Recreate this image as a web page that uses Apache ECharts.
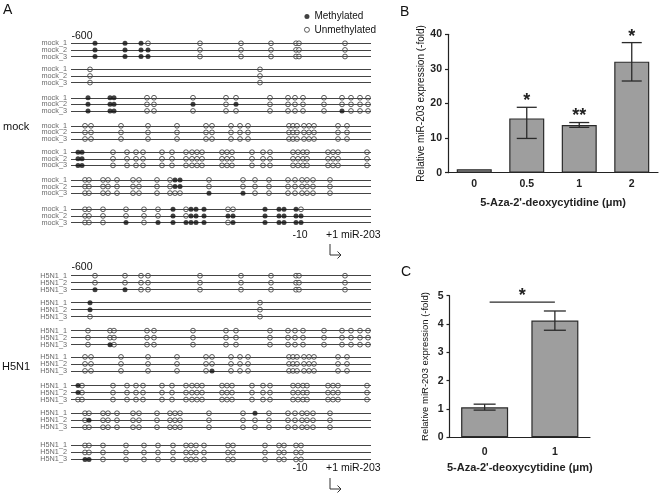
<!DOCTYPE html>
<html><head><meta charset="utf-8">
<script src="https://cdn.jsdelivr.net/npm/echarts/dist/echarts.min.js"></script>
<style>html,body{margin:0;padding:0;background:#fff}#c{width:660px;height:494px}</style>
</head><body><div id="c"></div>
<script>
// ---------- Panel A data: CpG site positions (relative units along the amplicon) ----------
const siteBlocks = [
  [24, 54, 70, 77, 129, 170, 200, 225, 228, 274],
  [19, 189],
  [17, 39, 43, 76, 83, 122, 155, 165, 199, 217, 224, 232, 253, 271, 280, 289, 297],
  [14, 20, 50, 77, 106, 135, 141, 160, 169, 177, 218, 222, 226, 233, 238, 243, 267, 276],
  [7, 11, 42, 56, 65, 72, 91, 101, 115, 121, 126, 131, 151, 156, 161, 181, 192, 199, 222, 227, 232, 236, 257, 262, 267, 296],
  [14, 18, 32, 37, 46, 62, 68, 86, 99, 104, 109, 138, 172, 184, 198, 217, 224, 231, 236, 242, 259],
  [14, 18, 32, 55, 73, 87, 102, 115, 120, 125, 133, 157, 162, 194, 208, 213, 225, 230]
];
const mockLabels = ['mock_1', 'mock_2', 'mock_3'];
const h5Labels = ['H5N1_1', 'H5N1_2', 'H5N1_3'];
// indices of methylated sites, per block, per clone
const mockMeth = [
  [[0, 1, 2], [0, 1, 2, 3], [0, 1, 2, 3]],
  [[], [], []],
  [[0, 1, 2], [0, 1, 2, 5, 7], [0, 1, 2, 13]],
  [[], [], []],
  [[0, 1], [0, 1], [0, 1]],
  [[9, 10], [9, 10], [11, 12]],
  [[6, 8, 9, 10, 13, 14, 15, 16], [6, 8, 9, 10, 11, 12, 13, 14, 15, 16, 17], [3, 5, 6, 7, 8, 9, 10, 12, 13, 14, 15, 16, 17]]
];
const h5Meth = [
  [[], [], [0, 1]],
  [[0], [0], []],
  [[], [], [1]],
  [[], [], [6]],
  [[0], [0], []],
  [[13], [1], []],
  [[], [], [0, 1]]
];

// ---------- Panel B data ----------
const bCats = ['0', '0.5', '1', '2'];
const bMean = [1, 15.7, 13.8, 32.1];
const bLow = [1, 9.9, 13.1, 26.5];
const bHigh = [1, 18.9, 14.5, 37.6];
const bSig = ['', '*', '**', '*'];

// ---------- Panel C data ----------
const cCats = ['0', '1'];
const cMean = [1.06, 4.12];
const cLow = [0.96, 3.78];
const cHigh = [1.17, 4.46];
const cSig = '*';
const cSigLevel = 4.77;

// ---------- layout (row offsets of each block, in row units) ----------
const mockBlockStart = [0, 3.95, 8.25, 12.5, 16.5, 20.7, 25.15];
const h5BlockStart = [0, 3.85, 7.85, 11.6, 15.7, 19.65, 24.25];

const FONT = '"Liberation Sans", Arial, Helvetica, sans-serif';

function buildGroup(methIdx, starts, labels) {
  const rows = [], meth = [], unmeth = [];
  siteBlocks.forEach((sites, b) => {
    for (let r = 0; r < 3; r++) {
      const y = starts[b] + r;
      rows.push({ name: labels[r], value: [0, y] });
      sites.forEach((s, i) => (methIdx[b][r].indexOf(i) >= 0 ? meth : unmeth).push([s, y]));
    }
  });
  return { rows, meth, unmeth };
}
const gMock = buildGroup(mockMeth, mockBlockStart, mockLabels);
const gH5 = buildGroup(h5Meth, h5BlockStart, h5Labels);

function groupSeries(g, idx) {
  return [
    {
      type: 'scatter', xAxisIndex: idx, yAxisIndex: idx, data: g.rows, symbolSize: 0.01,
      itemStyle: { color: 'transparent' }, silent: true, z: 2,
      label: { show: true, position: 'left', distance: 4, formatter: '{b}', fontSize: 7.3, color: '#444', fontFamily: FONT },
      markLine: {
        silent: true, symbol: 'none', animation: false,
        label: { show: false },
        lineStyle: { color: '#444', width: 1, type: 'solid' },
        data: g.rows.map(r => ({ yAxis: r.value[1] }))
      }
    },
    {
      name: 'Unmethylated', type: 'scatter', xAxisIndex: idx, yAxisIndex: idx, data: g.unmeth,
      symbol: 'circle', symbolSize: 4.8, z: 4,
      itemStyle: { color: '#fff', borderColor: '#222', borderWidth: 0.9 }
    },
    {
      name: 'Methylated', type: 'scatter', xAxisIndex: idx, yAxisIndex: idx, data: g.meth,
      symbol: 'circle', symbolSize: 5, z: 5,
      itemStyle: { color: '#111' }
    }
  ];
}

function errSeries(xi, low, high, sig, capW, starFs) {
  return {
    type: 'custom', xAxisIndex: xi, yAxisIndex: xi, z: 6, silent: true,
    data: low.map((l, i) => [i, l, high[i]]),
    encode: { x: 0, y: [1, 2] },
    renderItem: function (params, api) {
      const x = api.value(0);
      const lo = api.coord([x, api.value(1)]);
      const hi = api.coord([x, api.value(2)]);
      const st = { stroke: '#2a2a2a', lineWidth: 1.3 };
      const ch = [];
      if (api.value(2) > api.value(1)) {
        ch.push({ type: 'line', shape: { x1: lo[0], y1: lo[1], x2: hi[0], y2: hi[1] }, style: st });
        ch.push({ type: 'line', shape: { x1: lo[0] - capW / 2, y1: lo[1], x2: lo[0] + capW / 2, y2: lo[1] }, style: st });
        ch.push({ type: 'line', shape: { x1: hi[0] - capW / 2, y1: hi[1], x2: hi[0] + capW / 2, y2: hi[1] }, style: st });
      }
      const s = sig[params.dataIndex];
      if (s) {
        ch.push({ type: 'text', style: { text: s, x: hi[0], y: hi[1] - 6, align: 'center', verticalAlign: 'middle',
          fontSize: starFs, fontWeight: 'bold', fontFamily: FONT, fill: '#222' } });
      }
      return { type: 'group', children: ch };
    }
  };
}

const axisLine = { show: true, lineStyle: { color: '#222', width: 1.2 } };
const tickLab = { fontSize: 10.5, fontWeight: 'bold', color: '#222', fontFamily: FONT };
const yTitle = 'Relative miR-203 expression (-fold)';
const xTitle = "5-Aza-2'-deoxycytidine (\u03bcm)";

const option = {
  animation: false,
  backgroundColor: '#fff',
  legend: {
    orient: 'vertical', left: 299, top: 6, itemWidth: 5, itemHeight: 5, itemGap: 2.3,
    textStyle: { fontSize: 10, color: '#111', fontFamily: FONT, lineHeight: 11 },
    selectedMode: false,
    data: [
      { name: 'Methylated', icon: 'circle', itemStyle: { color: '#111' } },
      { name: 'Unmethylated', icon: 'circle', itemStyle: { color: '#fff', borderColor: '#222', borderWidth: 0.9 } }
    ]
  },
  grid: [
    { left: 71, top: 43.3, width: 300, height: 179.2 },
    { left: 71, top: 275.7, width: 300, height: 183.75 },
    { left: 448, top: 34.3, width: 210, height: 138.4 },
    { left: 449.5, top: 295.7, width: 140.5, height: 141.6 }
  ],
  xAxis: [
    { type: 'value', gridIndex: 0, min: 0, max: 300, show: false },
    { type: 'value', gridIndex: 1, min: 0, max: 300, show: false },
    { type: 'category', gridIndex: 2, data: bCats, axisLine: axisLine, axisTick: { show: false },
      axisLabel: Object.assign({ margin: 6 }, tickLab),
      name: xTitle, nameLocation: 'middle', nameGap: 25,
      nameTextStyle: { fontSize: 11, fontWeight: 'bold', color: '#222', fontFamily: FONT } },
    { type: 'category', gridIndex: 3, data: cCats, axisLine: axisLine, axisTick: { show: false },
      axisLabel: Object.assign({ margin: 9 }, tickLab),
      name: xTitle, nameLocation: 'middle', nameGap: 25,
      nameTextStyle: { fontSize: 11, fontWeight: 'bold', color: '#222', fontFamily: FONT } }
  ],
  yAxis: [
    { type: 'value', gridIndex: 0, min: 0, max: 27.15, inverse: true, show: false },
    { type: 'value', gridIndex: 1, min: 0, max: 26.25, inverse: true, show: false },
    { type: 'value', gridIndex: 2, min: 0, max: 40, interval: 10, axisLine: axisLine,
      axisTick: { show: true, length: 3, lineStyle: { color: '#222', width: 1.2 } },
      axisLabel: Object.assign({ margin: 6 }, tickLab), splitLine: { show: false },
      name: yTitle, nameLocation: 'middle', nameGap: 20, nameRotate: 90,
      nameTextStyle: { fontSize: 10, color: '#111', fontFamily: FONT } },
    { type: 'value', gridIndex: 3, min: 0, max: 5, interval: 1, axisLine: axisLine,
      axisTick: { show: true, length: 3, lineStyle: { color: '#222', width: 1.2 } },
      axisLabel: Object.assign({ margin: 6 }, tickLab), splitLine: { show: false },
      name: yTitle, nameLocation: 'middle', nameGap: 19, nameRotate: 90,
      nameTextStyle: { fontSize: 9.5, color: '#111', fontFamily: FONT } }
  ],
  series: [].concat(
    groupSeries(gMock, 0),
    groupSeries(gH5, 1),
    [
      { type: 'bar', xAxisIndex: 2, yAxisIndex: 2, data: bMean, barWidth: 35, z: 3,
        itemStyle: { color: '#9e9e9e', borderColor: '#2a2a2a', borderWidth: 1.2 } },
      errSeries(2, bLow, bHigh, bSig, 20, 18),
      { type: 'bar', xAxisIndex: 3, yAxisIndex: 3, data: cMean, barWidth: 47, z: 3,
        itemStyle: { color: '#9e9e9e', borderColor: '#2a2a2a', borderWidth: 1.2 } },
      errSeries(3, cLow, cHigh, ['', ''], 22, 18),
      {
        type: 'custom', xAxisIndex: 3, yAxisIndex: 3, z: 6, silent: true,
        data: [[0, 1, cSigLevel]],
        renderItem: function (params, api) {
          const a = api.coord([api.value(0), api.value(2)]);
          const b = api.coord([api.value(1), api.value(2)]);
          return { type: 'group', children: [
            { type: 'line', shape: { x1: a[0] + 5, y1: a[1], x2: b[0], y2: b[1] }, style: { stroke: '#2a2a2a', lineWidth: 1.3 } },
            { type: 'text', style: { text: cSig, x: (a[0] + 5 + b[0]) / 2, y: a[1] - 6, align: 'center', verticalAlign: 'middle',
              fontSize: 18, fontWeight: 'bold', fontFamily: FONT, fill: '#222' } }
          ] };
        }
      }
    ]
  ),
  graphic: [
    { type: 'text', x: 3, y: 10, style: { text: 'A', fontSize: 14, fontFamily: FONT, fill: '#111', verticalAlign: 'middle' } },
    { type: 'text', x: 400, y: 12, style: { text: 'B', fontSize: 14, fontFamily: FONT, fill: '#111', verticalAlign: 'middle' } },
    { type: 'text', x: 401, y: 272, style: { text: 'C', fontSize: 14, fontFamily: FONT, fill: '#111', verticalAlign: 'middle' } },
    { type: 'text', x: 3, y: 127, style: { text: 'mock', fontSize: 11, fontFamily: FONT, fill: '#111', verticalAlign: 'middle' } },
    { type: 'text', x: 2, y: 367, style: { text: 'H5N1', fontSize: 11, fontFamily: FONT, fill: '#111', verticalAlign: 'middle' } },
    { type: 'text', x: 82, y: 36, style: { text: '-600', fontSize: 10.5, fontFamily: FONT, fill: '#111', align: 'center', verticalAlign: 'middle' } },
    { type: 'text', x: 82, y: 267, style: { text: '-600', fontSize: 10.5, fontFamily: FONT, fill: '#111', align: 'center', verticalAlign: 'middle' } },
    { type: 'text', x: 300, y: 235, style: { text: '-10', fontSize: 10.5, fontFamily: FONT, fill: '#111', align: 'center', verticalAlign: 'middle' } },
    { type: 'text', x: 300, y: 468.5, style: { text: '-10', fontSize: 10.5, fontFamily: FONT, fill: '#111', align: 'center', verticalAlign: 'middle' } },
    { type: 'text', x: 326, y: 235, style: { text: '+1 miR-203', fontSize: 10.5, fontFamily: FONT, fill: '#111', verticalAlign: 'middle' } },
    { type: 'text', x: 326, y: 468.5, style: { text: '+1 miR-203', fontSize: 10.5, fontFamily: FONT, fill: '#111', verticalAlign: 'middle' } },
    { type: 'polyline', shape: { points: [[330, 244], [330, 255], [341, 255]] }, style: { stroke: '#333', lineWidth: 1, fill: null } },
    { type: 'polyline', shape: { points: [[337.5, 251.5], [341, 255], [337.5, 258.5]] }, style: { stroke: '#333', lineWidth: 1, fill: null } },
    { type: 'polyline', shape: { points: [[330, 478], [330, 489], [341, 489]] }, style: { stroke: '#333', lineWidth: 1, fill: null } },
    { type: 'polyline', shape: { points: [[337.5, 485.5], [341, 489], [337.5, 492.5]] }, style: { stroke: '#333', lineWidth: 1, fill: null } }
  ]
};
const chart = echarts.init(document.getElementById('c'));
chart.setOption(option);
</script>
</body></html>
